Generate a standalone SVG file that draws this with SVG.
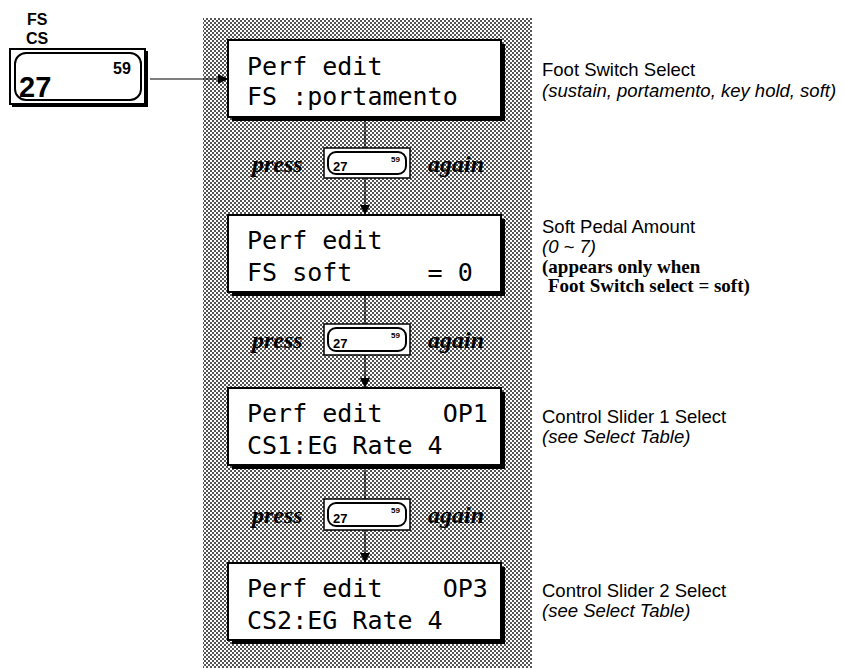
<svg xmlns="http://www.w3.org/2000/svg" width="844" height="668" viewBox="0 0 844 668">
<defs>
<pattern id="dots" width="4" height="4" patternUnits="userSpaceOnUse">
<rect width="4" height="4" fill="#fff"/>
<rect x="0" y="0" width="2" height="2" fill="#555"/>
<rect x="2" y="2" width="2" height="2" fill="#555"/>
</pattern>
<marker id="arr" viewBox="0 0 10 10" refX="10" refY="5" markerWidth="10" markerHeight="10" markerUnits="userSpaceOnUse" orient="auto">
<path d="M0,0 L10,5 L0,10 z" fill="#000"/>
</marker>
<style>
.lcd{font-family:"DejaVu Sans Mono","Liberation Mono",monospace;font-size:25px;fill:#000;white-space:pre}
.sans{font-family:"Liberation Sans",Arial,sans-serif;font-size:18.5px;fill:#000}
.it{font-style:italic}
.ser{font-family:"Liberation Serif","Times New Roman",serif;font-size:19px;font-weight:bold;fill:#000}
.pa{font-family:"Liberation Serif","Times New Roman",serif;font-size:24px;font-weight:bold;font-style:italic;fill:#000}
.box{fill:#fff;stroke:#000;stroke-width:2}
.shadow{fill:#000}
.btn{fill:#fff;stroke:#000;stroke-width:1.5}
.btni{fill:#fff;stroke:#000;stroke-width:2}
.btxt{font-family:"Liberation Sans",Arial,sans-serif;font-weight:bold;fill:#000}
.conn{stroke:#000;stroke-width:1.2;fill:none}
</style>
</defs>
<rect width="844" height="668" fill="#fff"/>
<rect x="203" y="18" width="329" height="650" fill="url(#dots)"/>

<g id="key">
<text class="btxt" x="27" y="25" font-size="16">FS</text>
<text class="btxt" x="26" y="44" font-size="16">CS</text>
<rect x="12" y="51" width="136" height="56" class="shadow"/>
<rect x="10" y="49" width="135" height="55" fill="#fff" stroke="#000" stroke-width="2"/>
<rect x="15" y="53" width="126" height="47" rx="11" class="btni"/>
<text class="btxt" x="113" y="74" font-size="16">59</text>
<text class="btxt" x="19" y="97" font-size="29">27</text>
</g>

<g id="connectors">
<line class="conn" x1="150" y1="79" x2="228" y2="79" marker-end="url(#arr)"/>
<line class="conn" x1="365" y1="120" x2="365" y2="148"/>
<line class="conn" x1="365" y1="178" x2="365" y2="215" marker-end="url(#arr)"/>
<line class="conn" x1="365" y1="295" x2="365" y2="324"/>
<line class="conn" x1="365" y1="355" x2="365" y2="388" marker-end="url(#arr)"/>
<line class="conn" x1="365" y1="470" x2="365" y2="499"/>
<line class="conn" x1="365" y1="530" x2="365" y2="563" marker-end="url(#arr)"/>
</g>

<g id="lcd1">
<rect x="232" y="44" width="273" height="77" class="shadow"/>
<rect x="228" y="40" width="273" height="77" class="box"/>
<text class="lcd" x="247" y="75">Perf edit</text>
<text class="lcd" x="247" y="105">FS :portamento</text>
</g>
<g id="lcd2">
<rect x="232" y="219" width="273" height="77" class="shadow"/>
<rect x="228" y="215" width="273" height="77" class="box"/>
<text class="lcd" x="247" y="249">Perf edit</text>
<text class="lcd" x="247" y="281">FS soft     = 0</text>
</g>
<g id="lcd3">
<rect x="232" y="392" width="273" height="77" class="shadow"/>
<rect x="228" y="388" width="273" height="77" class="box"/>
<text class="lcd" x="247" y="422">Perf edit    OP1</text>
<text class="lcd" x="247" y="454">CS1:EG Rate 4</text>
</g>
<g id="lcd4">
<rect x="232" y="567" width="273" height="77" class="shadow"/>
<rect x="228" y="563" width="273" height="77" class="box"/>
<text class="lcd" x="247" y="597">Perf edit    OP3</text>
<text class="lcd" x="247" y="629">CS2:EG Rate 4</text>
</g>

<g id="press1">
<text class="pa" x="252" y="172">press</text>
<rect x="324" y="148" width="86" height="30" class="btn"/>
<rect x="328" y="152" width="78" height="22" rx="8" class="btni"/>
<text class="btxt" x="333" y="171" font-size="13">27</text>
<text class="btxt" x="391" y="162" font-size="8">59</text>
<text class="pa" x="428" y="172" font-size="23">again</text>
</g>
<g id="press2">
<text class="pa" x="252" y="348">press</text>
<rect x="324" y="324" width="86" height="31" class="btn"/>
<rect x="328" y="328" width="78" height="23" rx="8" class="btni"/>
<text class="btxt" x="333" y="348" font-size="13">27</text>
<text class="btxt" x="391" y="338" font-size="8">59</text>
<text class="pa" x="428" y="348" font-size="23">again</text>
</g>
<g id="press3">
<text class="pa" x="252" y="523">press</text>
<rect x="324" y="499" width="86" height="31" class="btn"/>
<rect x="328" y="503" width="78" height="23" rx="8" class="btni"/>
<text class="btxt" x="333" y="523" font-size="13">27</text>
<text class="btxt" x="391" y="513" font-size="8">59</text>
<text class="pa" x="428" y="523" font-size="23">again</text>
</g>

<g id="desc1">
<text class="sans" x="542" y="76">Foot Switch Select</text>
<text class="sans it" x="542" y="97">(sustain, portamento, key hold, soft)</text>
</g>
<g id="desc2">
<text class="sans" x="542" y="233">Soft Pedal Amount</text>
<text class="sans it" x="542" y="253">(0 ~ 7)</text>
<text class="ser" x="542" y="273">(appears only when</text>
<text class="ser" x="548" y="292">Foot Switch select = soft)</text>
</g>
<g id="desc3">
<text class="sans" x="542" y="423">Control Slider 1 Select</text>
<text class="sans it" x="542" y="443">(see Select Table)</text>
</g>
<g id="desc4">
<text class="sans" x="542" y="597">Control Slider 2 Select</text>
<text class="sans it" x="542" y="617">(see Select Table)</text>
</g>
</svg>
